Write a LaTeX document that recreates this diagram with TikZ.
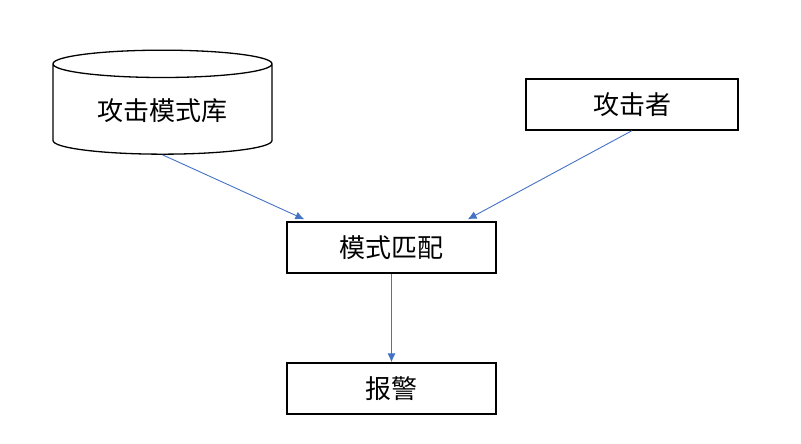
\documentclass[tikz,border=0pt]{standalone}
\usepackage{fontspec}
\newfontfamily\cjk{Noto Sans CJK SC}
\usetikzlibrary{shapes.geometric,calc,arrows.meta}
\definecolor{linkblue}{HTML}{4472C4}
\tikzset{
  box/.style={draw,line width=1.3pt,minimum width=209pt,minimum height=51pt,font=\cjk\fontsize{26}{30}\selectfont},
  link/.style={draw=linkblue,line width=0.9pt,-{Latex[length=9pt,width=8pt]}}
}
\begin{document}
\begin{tikzpicture}[x=1pt,y=-1pt]
  \useasboundingbox (0,0) rectangle (801,444);
  \node[box,cylinder,shape border rotate=90,aspect=0.2,minimum width=219pt,minimum height=104pt] (db) at (162.5,111) {攻击模式库};
  \node[box,minimum width=212pt] (atk) at (632,104.5) {攻击者};
  \node[box] (match) at (391.5,247.5) {模式匹配};
  \node[box] (alarm) at (391.5,388.5) {报警};
  \draw[link] (db.south) -- ($(match.north west)+(18,-2)$);
  \draw[link] (atk.south) -- ($(match.north east)+(-29,-2)$);
  \draw[link] (match) -- (alarm);
\end{tikzpicture}
\end{document}
